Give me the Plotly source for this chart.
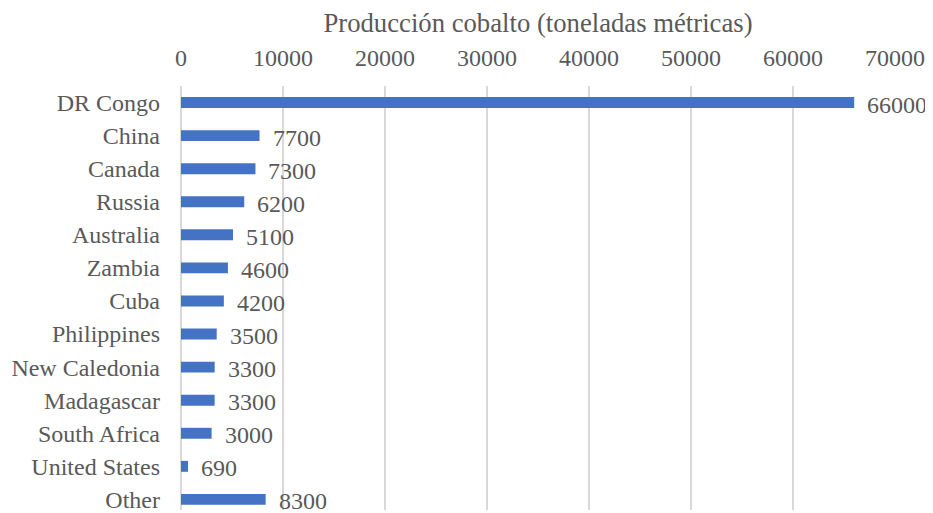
import plotly.graph_objects as go

countries = ["DR Congo", "China", "Canada", "Russia", "Australia", "Zambia", "Cuba",
             "Philippines", "New Caledonia", "Madagascar", "South Africa", "United States", "Other"]
production = [66000, 7700, 7300, 6200, 5100, 4600, 4200, 3500, 3300, 3300, 3000, 690, 8300]
x_ticks = [0, 10000, 20000, 30000, 40000, 50000, 60000, 70000]

FONT = "Liberation Serif, Times New Roman, serif"
GREY = "#595959"

fig = go.Figure()
fig.add_trace(go.Bar(
    x=production, y=countries, orientation="h",
    marker=dict(color="#4472C4", line=dict(width=0)),
    width=0.33,
    hoverinfo="x+y",
))

for c, v in zip(countries, production):
    fig.add_annotation(x=v, y=c, text=str(v), showarrow=False,
                       xanchor="left", yanchor="middle", xshift=11, yshift=-2,
                       font=dict(family=FONT, size=24, color=GREY))

fig.update_layout(
    width=925, height=505,
    margin=dict(l=173, r=38, t=78, b=0),
    plot_bgcolor="white", paper_bgcolor="white",
    showlegend=False,
    font=dict(family=FONT, size=24, color=GREY),
    xaxis=dict(
        side="top", range=[0, 70000], tickvals=x_ticks,
        ticktext=[str(t) for t in x_ticks],
        showgrid=True, gridcolor="#D9D9D9", gridwidth=2,
        zeroline=True, zerolinecolor="#D9D9D9", zerolinewidth=2,
        showline=False, ticks="", ticklen=0, ticklabelstandoff=14,
        tickfont=dict(family=FONT, size=24, color=GREY),
        title=dict(text="Producción cobalto (toneladas métricas)",
                   font=dict(family=FONT, size=26.7, color=GREY), standoff=6),
        fixedrange=True,
    ),
    yaxis=dict(
        type="category", categoryorder="array", categoryarray=countries,
        range=[12.32, -0.5], showgrid=False, zeroline=False, showline=False,
        ticks="", ticklabelstandoff=20,
        tickfont=dict(family=FONT, size=24, color=GREY),
        fixedrange=True,
    ),
)

fig.write_html("out.html")
